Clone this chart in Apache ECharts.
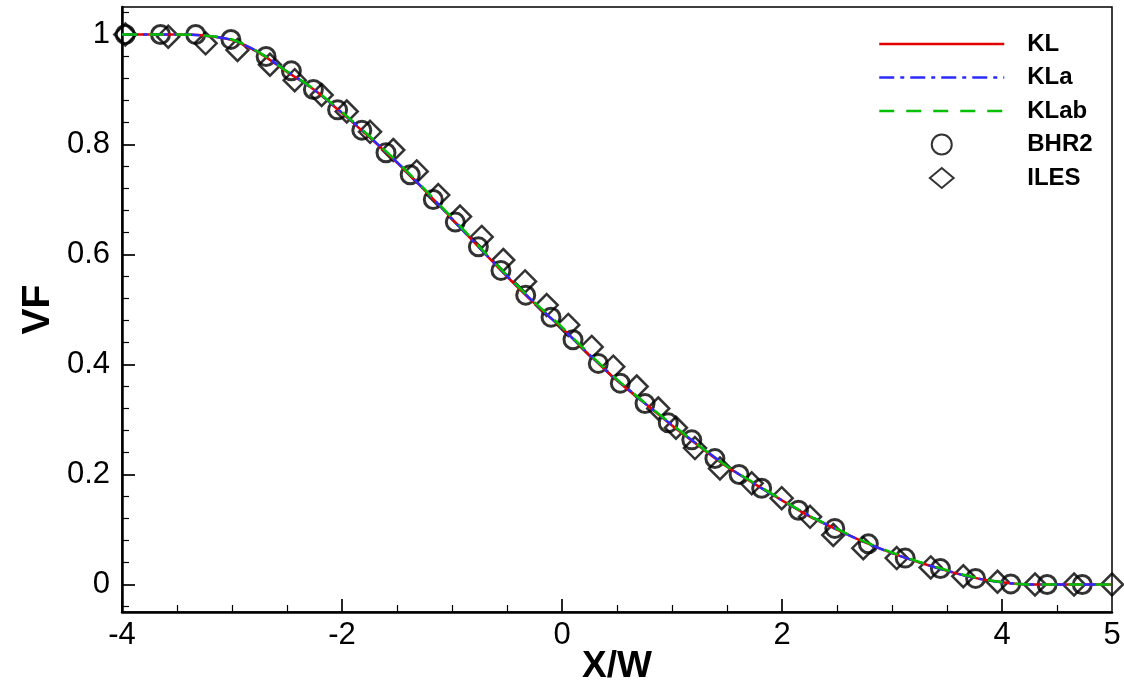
<!DOCTYPE html>
<html><head><meta charset="utf-8">
<script src="https://cdn.jsdelivr.net/npm/echarts@6/dist/echarts.min.js"></script>
<style>html,body{margin:0;padding:0;background:#fff}#c{width:1124px;height:691px}</style>
</head><body><div id="c"></div>
<script>
// ---- data ----
const lineX   = [-4,-3.75,-3.5,-3.25,-3,-2.75,-2.5,-2.25,-2,-1.75,-1.5,-1.25,-1,-0.75,-0.5,-0.25,0,0.25,0.5,0.75,1,1.25,1.5,1.75,2,2.25,2.5,2.75,3,3.25,3.5,3.75,4,4.25,4.5,4.75,5];
const klVF    = [1,1,1,0.998,0.990,0.966,0.932,0.899,0.857,0.813,0.767,0.717,0.665,0.612,0.560,0.511,0.466,0.417,0.371,0.330,0.289,0.251,0.214,0.183,0.153,0.124,0.100,0.077,0.057,0.040,0.025,0.012,0.004,0,0,0,0];
const klaVF   = [1,1,1,0.998,0.990,0.967,0.933,0.899,0.858,0.814,0.768,0.718,0.665,0.612,0.561,0.512,0.466,0.418,0.372,0.330,0.290,0.252,0.215,0.183,0.153,0.125,0.100,0.077,0.057,0.040,0.025,0.012,0.004,0,0,0,0];
const klabVF  = [1,1,1,0.998,0.991,0.967,0.933,0.900,0.859,0.815,0.769,0.719,0.667,0.614,0.562,0.513,0.468,0.419,0.373,0.331,0.291,0.252,0.215,0.184,0.154,0.125,0.101,0.078,0.058,0.041,0.026,0.013,0.004,0,0,0,0];
const bhr2X   = [-3.97,-3.65,-3.33,-3.01,-2.69,-2.46,-2.26,-2.04,-1.82,-1.60,-1.38,-1.17,-0.97,-0.76,-0.555,-0.33,-0.10,0.10,0.33,0.53,0.755,0.966,1.18,1.39,1.61,1.815,2.15,2.48,2.785,3.12,3.44,3.76,4.08,4.41,4.73];
const bhr2VF  = [1,1,1,0.991,0.960,0.934,0.900,0.863,0.826,0.785,0.745,0.700,0.659,0.614,0.571,0.526,0.486,0.445,0.402,0.366,0.329,0.294,0.263,0.229,0.200,0.175,0.135,0.102,0.074,0.048,0.029,0.011,0.001,0,0];
const ilesX   = [-3.97,-3.58,-3.24,-2.95,-2.655,-2.43,-2.185,-1.957,-1.745,-1.534,-1.321,-1.125,-0.927,-0.730,-0.534,-0.336,-0.139,0.057,0.270,0.466,0.679,0.875,1.036,1.209,1.436,1.725,1.997,2.255,2.466,2.739,3.043,3.352,3.648,3.959,4.300,4.655,5.0];
const ilesVF  = [1,0.996,0.984,0.972,0.945,0.917,0.890,0.860,0.823,0.790,0.751,0.708,0.669,0.632,0.590,0.551,0.508,0.472,0.432,0.396,0.360,0.320,0.285,0.248,0.211,0.184,0.157,0.123,0.090,0.066,0.048,0.031,0.015,0.005,0,0,0];
const xLabelValues = [-4,-2,0,2,4,5];
const xMajorTicks  = [-4,-2,0,2,4];
const xMinorTicks  = [-3.5,-3,-2.5,-1.5,-1,-0.5,0.5,1,1.5,2.5,3,3.5,4.5];
const yLabelValues = [0,0.2,0.4,0.6,0.8,1];
const yMinorTicks  = [-0.04,0.04,0.08,0.12,0.16,0.24,0.28,0.32,0.36,0.44,0.48,0.52,0.56,0.64,0.68,0.72,0.76,0.84,0.88,0.92,0.96,1.04];
const legendNames  = ['KL','KLa','KLab','BHR2','ILES'];

const zip = (a, b) => a.map((v, i) => [v, b[i]]);
const FONT = 'Liberation Sans, Arial, Helvetica, sans-serif';

const chart = echarts.init(document.getElementById('c'), null, {renderer: 'canvas'});
chart.setOption({
  animation: false,
  backgroundColor: '#fff',
  grid: {left: 122, right: 12, top: 7, bottom: 79, show: true, borderColor: '#000', borderWidth: 1.5,
         containLabel: false, outerBoundsMode: 'none'},
  legend: {
    orient: 'vertical', left: 878, top: 32, padding: 0, itemWidth: 125, itemHeight: 20, itemGap: 9.5,
    lineStyle: {width: 2.5},
    data: [
      {name: legendNames[0], itemStyle: {opacity: 0}},
      {name: legendNames[1], itemStyle: {opacity: 0}},
      {name: legendNames[2], itemStyle: {opacity: 0}},
      {name: legendNames[3]},
      {name: legendNames[4], icon: 'path://M0,10.5L12.5,0L25,10.5L12.5,21Z'}
    ],
    textStyle: {fontFamily: FONT, fontWeight: 'bold', fontSize: 24, color: '#000', padding: [0,0,0,18]},
    symbolKeepAspect: true
  },
  xAxis: [
    {type: 'value', min: -4, max: 5, position: 'bottom',
     name: 'X/W', nameLocation: 'middle', nameGap: 36, nameMoveOverlap: false,
     nameTextStyle: {fontFamily: FONT, fontWeight: 'bold', fontSize: 37, color: '#000'},
     axisLine: {show: true, onZero: false, lineStyle: {color: '#000', width: 2.5}},
     axisTick: {show: true, inside: true, length: 13, lineStyle: {color: '#000', width: 1.7}, customValues: xMajorTicks},
     axisLabel: {show: true, margin: 8, fontFamily: FONT, fontSize: 31, color: '#000', customValues: xLabelValues},
     splitLine: {show: false}},
    {type: 'value', min: -4, max: 5, position: 'bottom',
     axisLine: {show: false, onZero: false},
     axisTick: {show: true, inside: true, length: 7, lineStyle: {color: '#000', width: 1.2}, customValues: xMinorTicks},
     axisLabel: {show: false}, splitLine: {show: false}}
  ],
  yAxis: [
    {type: 'value', min: -0.05, max: 1.05, position: 'left',
     name: 'VF', nameLocation: 'middle', nameGap: 64, nameRotate: 90, nameMoveOverlap: false,
     nameTextStyle: {fontFamily: FONT, fontWeight: 'bold', fontSize: 39, color: '#000'},
     axisLine: {show: true, onZero: false, lineStyle: {color: '#000', width: 2.5}},
     axisTick: {show: true, inside: true, length: 13, lineStyle: {color: '#000', width: 1.7}, customValues: yLabelValues},
     axisLabel: {show: true, margin: 12, fontFamily: FONT, fontSize: 31, color: '#000', customValues: yLabelValues},
     splitLine: {show: false}},
    {type: 'value', min: -0.05, max: 1.05, position: 'left',
     axisLine: {show: false, onZero: false},
     axisTick: {show: true, inside: true, length: 7, lineStyle: {color: '#000', width: 1.2}, customValues: yMinorTicks},
     axisLabel: {show: false}, splitLine: {show: false}}
  ],
  series: [
    {name: 'BHR2', type: 'scatter', data: zip(bhr2X, bhr2VF), symbol: 'circle', symbolSize: 18,
     itemStyle: {color: 'rgba(0,0,0,0)', borderColor: '#000', borderWidth: 3}, z: 2},
    {name: 'ILES', type: 'scatter', data: zip(ilesX, ilesVF), symbol: 'diamond', symbolSize: 22,
     itemStyle: {color: 'rgba(0,0,0,0)', borderColor: '#000', borderWidth: 2.5}, z: 2},
    {name: 'KL', type: 'line', data: zip(lineX, klVF), symbol: 'none', smooth: 0.3,
     lineStyle: {color: '#e00000', width: 2.5, type: 'solid'}, itemStyle: {color: '#e00000'}, z: 3},
    {name: 'KLa', type: 'line', data: zip(lineX, klaVF), symbol: 'none', smooth: 0.3,
     lineStyle: {color: '#2b2bff', width: 2.5, type: [15,6,4,6]}, itemStyle: {color: '#2b2bff'}, z: 3},
    {name: 'KLab', type: 'line', data: zip(lineX, klabVF), symbol: 'none', smooth: 0.3,
     lineStyle: {color: '#00c000', width: 2.5, type: [15,12]}, itemStyle: {color: '#00c000'}, z: 3}
  ]
});
</script></body></html>
